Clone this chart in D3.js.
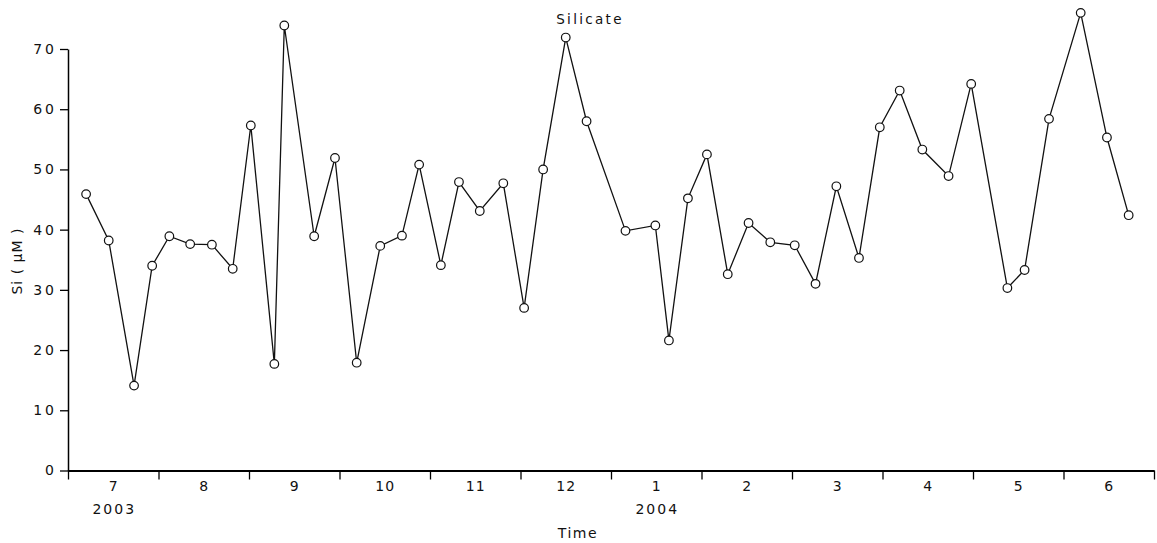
<!DOCTYPE html>
<html lang="en">
    <head>
        <meta charset="utf-8">
        <title>Silicate</title>
        <script src="https://d3js.org/d3.v7.min.js"></script>
        <style type="text/css">
        body { margin: 0; background: #fff; }
        text { font-family: "DejaVu Sans", sans-serif; fill: #111; }
        .tick text { font-size: 14px; }
        </style>
    </head>
    <body>
        <svg width="1157" height="543"></svg>

    <script type="text/javascript">

        // month labels (July 2003 .. June 2004)
        const monthLabels = ["7", "8", "9", "10", "11", "12", "1", "2", "3", "4", "5", "6"];
        const yearLabels = [{ year: "2003", month: 0 }, { year: "2004", month: 6 }];
        const yTicks = [0, 10, 20, 30, 40, 50, 60, 70];

        // sampling time, in months since 1 July 2003
        const sampleTime = [0.20, 0.45, 0.73, 0.93, 1.12, 1.35, 1.59, 1.82, 2.02, 2.28,
                            2.39, 2.72, 2.95, 3.19, 3.45, 3.69, 3.88, 4.12, 4.32, 4.55,
                            4.81, 5.04, 5.25, 5.50, 5.73, 6.16, 6.49, 6.64, 6.85, 7.06,
                            7.29, 7.52, 7.76, 8.03, 8.26, 8.49, 8.74, 8.97, 9.19, 9.44,
                            9.73, 9.98, 10.38, 10.57, 10.84, 11.19, 11.48, 11.72];
        // silicate, uM
        const siValues = [45.9, 38.2, 14.1, 34.0, 38.9, 37.6, 37.5, 33.5, 57.3, 17.7,
                          73.9, 38.9, 51.9, 17.9, 37.3, 39.0, 50.8, 34.1, 47.9, 43.1,
                          47.7, 27.0, 50.0, 71.9, 58.0, 39.8, 40.7, 21.6, 45.2, 52.5,
                          32.6, 41.1, 37.9, 37.4, 31.0, 47.2, 35.3, 57.0, 63.1, 53.3,
                          48.9, 64.2, 30.3, 33.3, 58.4, 76.0, 55.3, 42.4];

        const dataset = sampleTime.map((t, i) => ({ t: t, si: siValues[i] }));

        const svg = d3.select("svg");
        const xLeft = 68, xRight = 1154, yTop = 49, yBottom = 470.5;

        const xScale = d3.scaleLinear().domain([0, 12]).range([xLeft, xRight]);
        const yScale = d3.scaleLinear().domain([0, 70]).range([yBottom, yTop]);

        // x axis: boundary ticks
        const xAxis = svg.append("g")
            .attr("transform", "translate(0," + yBottom + ")")
            .call(d3.axisBottom(xScale)
                .tickValues(d3.range(0, 13))
                .tickFormat("")
                .tickSize(9)
                .tickSizeOuter(0));
        xAxis.select(".domain").attr("stroke-width", 2);
        xAxis.selectAll(".tick line").attr("stroke-width", 1.3);

        // month labels at month centres
        const monthAxis = svg.append("g")
            .attr("transform", "translate(0," + yBottom + ")")
            .call(d3.axisBottom(xScale)
                .tickValues(d3.range(0.5, 12, 1))
                .tickFormat((d, i) => monthLabels[i])
                .tickSize(0)
                .tickPadding(11));
        monthAxis.select(".domain").remove();
        monthAxis.selectAll("text").attr("letter-spacing", 1);

        svg.selectAll(".year")
            .data(yearLabels)
            .enter()
            .append("text")
            .attr("class", "year")
            .attr("x", d => xScale(d.month + 0.5) + 1)
            .attr("y", 514)
            .attr("text-anchor", "middle")
            .attr("font-size", 14)
            .attr("letter-spacing", 2)
            .text(d => d.year);

        // y axis
        const yAxis = svg.append("g")
            .attr("transform", "translate(" + xLeft + ",0)")
            .call(d3.axisLeft(yScale)
                .tickValues(yTicks)
                .tickSize(8)
                .tickPadding(6)
                .tickSizeOuter(0));
        yAxis.select(".domain").attr("stroke-width", 1.5);
        yAxis.selectAll(".tick line").attr("stroke-width", 1.3);
        yAxis.selectAll("text").attr("letter-spacing", 3).attr("dx", 3);

        // line
        const line = d3.line()
            .x(d => xScale(d.t))
            .y(d => yScale(d.si));

        svg.append("path")
            .datum(dataset)
            .attr("fill", "none")
            .attr("stroke", "#111")
            .attr("stroke-width", 1.3)
            .attr("d", line);

        svg.selectAll(".pt")
            .data(dataset)
            .enter()
            .append("circle")
            .attr("class", "pt")
            .attr("cx", d => xScale(d.t))
            .attr("cy", d => yScale(d.si))
            .attr("r", 4.3)
            .attr("fill", "#fff")
            .attr("stroke", "#111")
            .attr("stroke-width", 1.2);

        // titles
        svg.append("text")
            .attr("x", 590)
            .attr("y", 24)
            .attr("text-anchor", "middle")
            .attr("font-size", 13.5)
            .attr("letter-spacing", 2.3)
            .text("Silicate");

        svg.append("text")
            .attr("x", 578)
            .attr("y", 538)
            .attr("text-anchor", "middle")
            .attr("font-size", 14)
            .attr("letter-spacing", 1.5)
            .text("Time");

        svg.append("text")
            .attr("transform", "translate(22,261) rotate(-90)")
            .attr("text-anchor", "middle")
            .attr("font-size", 14)
            .attr("letter-spacing", 1)
            .text("Si ( μM )");

    </script>
    </body>
</html>
